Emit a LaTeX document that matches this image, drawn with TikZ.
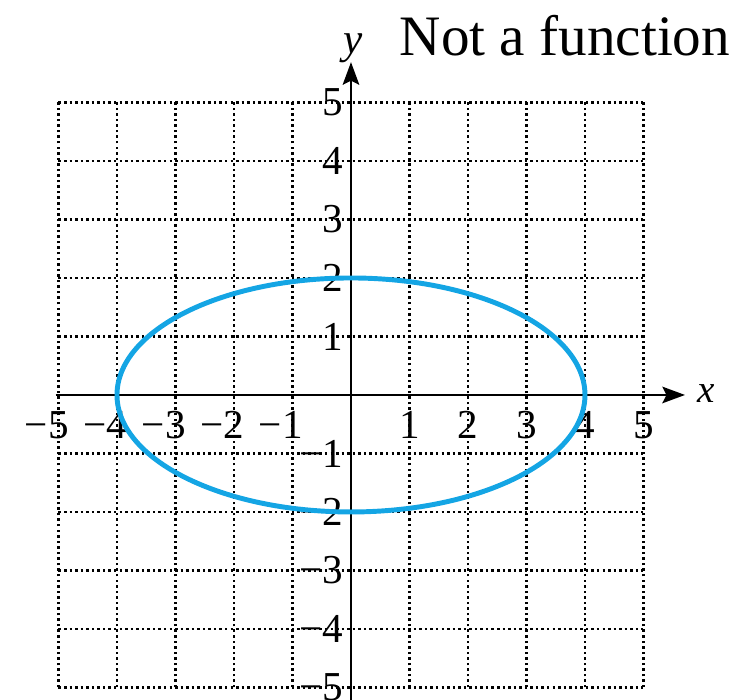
\documentclass[tikz,border=0pt]{standalone}
\usepackage{fontspec}
\setmainfont{Liberation Serif}
\usetikzlibrary{arrows.meta,shapes.geometric}
\definecolor{ellblue}{RGB}{20,165,228}
\begin{document}
\begin{tikzpicture}[x=1cm,y=1cm,
  gridline/.style={line width=1.2pt, dash pattern=on 1.2pt off 1.5pt},
  axisline/.style={line width=1.3pt, -{Stealth[length=11pt,width=8pt,inset=2pt]}},
  ticklbl/.style={font=\fontsize{20}{20}\selectfont, inner sep=0pt},
  curve/.style={draw=ellblue, line width=2.4pt}]
\useasboundingbox (-6.0,-5.214) rectangle (6.684,6.752);
\foreach \i in {-5,...,5} {
  \draw[gridline] (\i,-5) -- (\i,5);
  \draw[gridline] (-5,\i) -- (5,\i);
}
\coordinate (xs) at (-5.05,0);
\coordinate (xe) at (5.71,0);
\coordinate (ys) at (0,-5.3);
\coordinate (ye) at (0,5.69);
\draw[axisline] (xs) -- (xe);
\draw[axisline] (ys) -- (ye);
\node[anchor=west, font=\fontsize{19}{19}\selectfont\itshape] (xl) at (5.8,0.02) {x};
\node[anchor=base, font=\fontsize{21}{21}\selectfont\itshape] (yl) at (0.03,5.84) {y};
\node[anchor=base west, font=\fontsize{27.8}{27.8}\selectfont, inner sep=0pt] (title) at (0.83,5.81) {Not a function};
\foreach \i in {1,...,5} {
  \node[ticklbl, anchor=base] (xp\i) at (\i,-0.74) {\i};
  \node[ticklbl, anchor=base east] (xn\i) at (-\i+0.18,-0.74) {−\i};
  \node[ticklbl, anchor=east] (yp\i) at (-0.13,\i) {\i};
  \node[ticklbl, anchor=east] (yn\i) at (-0.13,-\i) {−\i};
}
\node[curve, ellipse, minimum width=8cm, minimum height=4cm, inner sep=0pt, outer sep=0pt] (ell) at (0,0) {};
\end{tikzpicture}
\end{document}
